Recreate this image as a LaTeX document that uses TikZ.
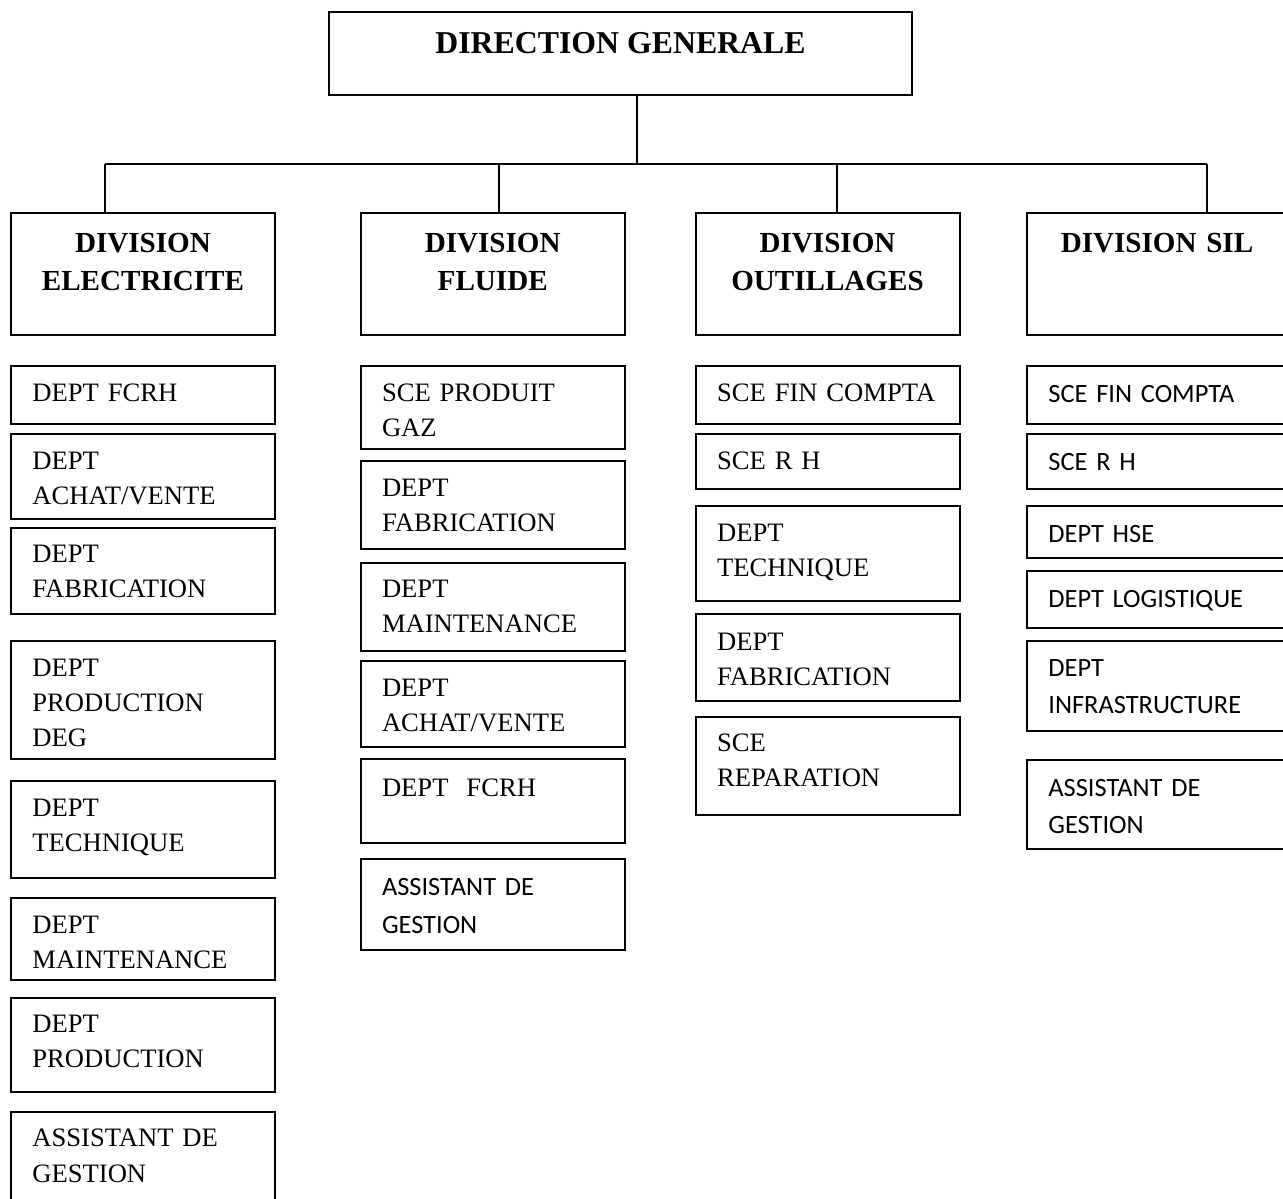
\documentclass[tikz,border=0pt]{standalone}
\usepackage{fontspec}
\setmainfont{Liberation Serif}
\newfontfamily\calibrilike{Carlito}
\begin{document}
\begin{tikzpicture}[x=0.5pt,y=-0.5pt,
  unit/.style={draw, line width=1pt, rectangle, inner sep=0pt, outer sep=0pt,
    anchor=north west, minimum width=132pt},
  serif/.style={anchor=base west, inner sep=0pt, align=left, text width=125pt,
    font=\fontsize{13.3}{17.5}\selectfont},
  sans/.style={anchor=base west, inner sep=0pt, align=left, text width=115pt,
    font=\calibrilike\fontsize{13.2}{18.3}\selectfont},
  head/.style={anchor=base, inner sep=0pt, align=center, text width=130pt,
    font=\bfseries\fontsize{14.55}{18.85}\selectfont},
  link/.style={line width=0.8pt}]
\useasboundingbox (0,0) rectangle (1283,1198);

% general management
\node[unit, minimum width=291.5pt, minimum height=41.5pt] (top) at (329,12) {};
\node[anchor=base, inner sep=0pt, font=\bfseries\fontsize{15.9}{19}\selectfont] (toplbl) at (620.5,54) {DIRECTION GENERALE};

% divisions
\node[unit, minimum height=61pt] (elec) at (11,213) {};
\node[unit, minimum height=61pt] (flu) at (361,213) {};
\node[unit, minimum height=61pt] (out) at (696,213) {};
\node[unit, minimum height=61pt] (sil) at (1027,213) {};
\node[head] (elecl) at (143,252.3) {DIVISION\\ELECTRICITE};
\node[head] (flul) at (492.7,252.3) {DIVISION\\FLUIDE};
\node[head] (outl) at (827.5,252.3) {DIVISION\\OUTILLAGES};
\node[head] (sill) at (1157,252.3) {DIVISION SIL};

% tree connectors
\coordinate (bus) at (637,164);
\coordinate (d1) at (105,164);
\coordinate (d2) at (499,164);
\coordinate (d3) at (837,164);
\coordinate (d4) at (1207,164);
\draw[link] (top.south -| bus) -- (bus);
\draw[link] (d1) -- (d4);
\draw[link] (d1) -- (d1 |- elec.north);
\draw[link] (d2) -- (d2 |- flu.north);
\draw[link] (d3) -- (d3 |- out.north);
\draw[link] (d4) -- (d4 |- sil.north);

% electricity column
\node[unit, minimum height=29.15pt] (e1) at (11,365.7) {};
\node[unit, minimum height=42.65pt] (e2) at (11,434) {};
\node[unit, minimum height=43.3pt] (e3) at (11,527.7) {};
\node[unit, minimum height=59.15pt] (e4) at (11,641) {};
\node[unit, minimum height=48.8pt] (e5) at (11,780.7) {};
\node[unit, minimum height=41.15pt] (e6) at (11,897.7) {};
\node[unit, minimum height=46.85pt] (e7) at (11,998) {};
\node[unit, minimum height=50pt] (e8) at (11,1111.7) {};
\node[serif] (e1l) at (32,401.7) {DEPT FCRH};
\node[serif] (e2l) at (32,469) {DEPT\\ACHAT/VENTE};
\node[serif] (e3l) at (32,562.7) {DEPT\\FABRICATION};
\node[serif] (e4l) at (32,676.7) {DEPT\\PRODUCTION\\DEG};
\node[serif] (e5l) at (32,816) {DEPT\\TECHNIQUE};
\node[serif] (e6l) at (32,933.3) {DEPT\\MAINTENANCE};
\node[serif] (e7l) at (32,1032.7) {DEPT\\PRODUCTION};
\node[serif, font=\fontsize{13.3}{18}\selectfont] (e8l) at (32,1146.7) {ASSISTANT DE\\GESTION};

% fluid column
\node[unit, minimum height=41.65pt] (f1) at (361,365.7) {};
\node[unit, minimum height=44pt] (f2) at (361,461) {};
\node[unit, minimum height=44.15pt] (f3) at (361,562.7) {};
\node[unit, minimum height=42.85pt] (f4) at (361,661) {};
\node[unit, minimum height=42pt] (f5) at (361,759.3) {};
\node[unit, minimum height=45.35pt] (f6) at (361,859.3) {};
\node[serif] (f1l) at (381.6,401) {SCE PRODUIT\\GAZ};
\node[serif] (f2l) at (381.6,496) {DEPT\\FABRICATION};
\node[serif] (f3l) at (381.6,597.7) {DEPT\\MAINTENANCE};
\node[serif] (f4l) at (381.6,696.7) {DEPT\\ACHAT/VENTE};
\node[serif] (f5l) at (381.6,796.7) {DEPT\hspace*{9pt}FCRH};
\node[sans, font=\calibrilike\fontsize{13.2}{18.8}\selectfont] (f6l) at (381.6,895.7) {ASSISTANT DE\\GESTION};

% tooling column
\node[unit, minimum height=29.15pt] (o1) at (696,365.7) {};
\node[unit, minimum height=27.65pt] (o2) at (696,434) {};
\node[unit, minimum height=47.65pt] (o3) at (696,505.7) {};
\node[unit, minimum height=43.35pt] (o4) at (696,614.3) {};
\node[unit, minimum height=49.15pt] (o5) at (696,716.7) {};
\node[serif] (o1l) at (716.7,401.7) {SCE FIN COMPTA};
\node[serif] (o2l) at (716.7,469) {SCE R H};
\node[serif] (o3l) at (716.7,541) {DEPT\\TECHNIQUE};
\node[serif] (o4l) at (716.7,650) {DEPT\\FABRICATION};
\node[serif] (o5l) at (716.7,751.7) {SCE\\REPARATION};

% SIL column
\node[unit, minimum height=29.15pt] (s1) at (1027,365.7) {};
\node[unit, minimum height=27.65pt] (s2) at (1027,434) {};
\node[unit, minimum height=26pt] (s3) at (1027,505.7) {};
\node[unit, minimum height=28.5pt] (s4) at (1027,570.7) {};
\node[unit, minimum height=45pt] (s5) at (1027,641) {};
\node[unit, minimum height=44.5pt] (s6) at (1027,760) {};
\node[sans] (s1l) at (1048,402.3) {SCE FIN COMPTA};
\node[sans] (s2l) at (1048,470) {SCE R H};
\node[sans] (s3l) at (1048,542.3) {DEPT HSE};
\node[sans] (s4l) at (1048,607.3) {DEPT LOGISTIQUE};
\node[sans] (s5l) at (1048,676.7) {DEPT\\INFRASTRUCTURE};
\node[sans] (s6l) at (1048,796.7) {ASSISTANT DE\\GESTION};
\end{tikzpicture}
\end{document}
